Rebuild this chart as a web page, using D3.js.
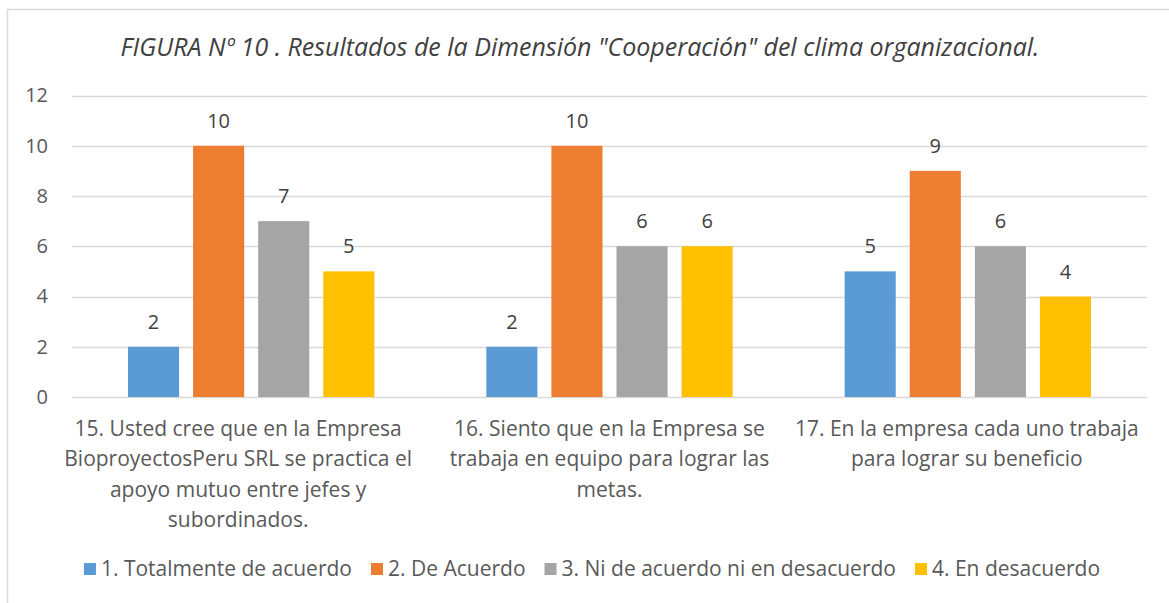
<!DOCTYPE html>
<html>
<head>
<meta charset="utf-8">
<script src="https://cdn.jsdelivr.net/npm/d3@7"></script>
<style>
  html, body { margin: 0; padding: 0; background: #fff; }
  svg text { font-family: "Open Sans", "Noto Sans", sans-serif; fill: #595959; }
</style>
</head>
<body>
<div id="chart"></div>
<script>
// --- data ---
const categories = ["q15", "q16", "q17"];
const categoryLines = [
  ["15. Usted cree que en la Empresa", "BioproyectosPeru SRL se practica el", "apoyo mutuo entre jefes y", "subordinados."],
  ["16. Siento que en la Empresa se", "trabaja en equipo para lograr las", "metas."],
  ["17. En la empresa cada uno trabaja", "para lograr su beneficio"]
];
const seriesNames = ["1. Totalmente de acuerdo", "2. De Acuerdo", "3. Ni de acuerdo ni en desacuerdo", "4. En desacuerdo"];
const totalmente = [2, 2, 5];
const deAcuerdo = [10, 10, 9];
const niNi = [7, 6, 6];
const desacuerdo = [5, 6, 4];
const yTicks = [0, 2, 4, 6, 8, 10, 12];
const titleText = "FIGURA Nº 10 . Resultados de la Dimensión \"Cooperación\" del clima organizacional.";

(function () {
  const W = 1169, H = 603;
  const colors = ["#5B9BD5", "#ED7D31", "#A5A5A5", "#FFC000"];
  const values = [totalmente, deAcuerdo, niNi, desacuerdo];
  const FS = 20;      // axis + data labels
  const FS_CAT = 21;  // category + legend text

  const svg = d3.select("#chart").append("svg")
    .attr("width", W).attr("height", H);

  // chart area border (cut at right/bottom in the source)
  svg.append("rect")
    .attr("x", 7.5).attr("y", 9.5)
    .attr("width", W + 20).attr("height", H + 20)
    .attr("fill", "#fff")
    .attr("stroke", "#D9D9D9").attr("stroke-width", 1.5);

  svg.append("text")
    .attr("x", 580).attr("y", 56)
    .attr("text-anchor", "middle")
    .style("font-style", "italic")
    .style("font-size", "25px")
    .style("fill", "#404040")
    .text(titleText);

  const x0 = d3.scaleBand().domain(categories).range([72, 1147]).padding(0);
  const x1 = d3.scaleBand().domain(d3.range(seriesNames.length))
    .range([0, x0.bandwidth()])
    .paddingInner(0.215).paddingOuter(0.86);
  const y = d3.scaleLinear().domain([0, 12]).range([397, 95.5]);

  // gridlines
  svg.append("g").selectAll("line")
    .data(yTicks).enter().append("line")
    .attr("x1", 72).attr("x2", 1147)
    .attr("y1", d => Math.round(y(d)) + 0.5).attr("y2", d => Math.round(y(d)) + 0.5)
    .attr("stroke", "#D9D9D9").attr("stroke-width", 1.5);

  // y axis labels
  const yAxis = d3.axisLeft(y).tickValues(yTicks).tickSize(0).tickPadding(0);
  const ga = svg.append("g").attr("transform", "translate(48,0)").call(yAxis);
  ga.select(".domain").remove();
  ga.selectAll("text")
    .style("font-size", FS + "px")
    .style("font-family", null)
    .attr("fill", null);

  // bars
  const groups = svg.append("g").selectAll("g")
    .data(categories).enter().append("g")
    .attr("transform", d => `translate(${x0(d)},0)`);

  groups.each(function (c, ci) {
    const g = d3.select(this);
    values.forEach((arr, si) => {
      const v = arr[ci];
      g.append("rect")
        .attr("x", x1(si)).attr("width", x1.bandwidth())
        .attr("y", y(v)).attr("height", y(0) - y(v))
        .attr("fill", colors[si]);
      g.append("text")
        .attr("x", x1(si) + x1.bandwidth() / 2)
        .attr("y", y(v) - 18)
        .attr("text-anchor", "middle")
        .style("font-size", FS + "px")
        .style("fill", "#404040")
        .text(v);
    });
  });

  // category labels (first one sits a bit left in the source)
  const labelShift = [-13, 0, -1];
  categories.forEach((c, ci) => {
    const cx = x0(c) + x0.bandwidth() / 2 + labelShift[ci];
    svg.append("text")
      .attr("text-anchor", "middle")
      .style("font-size", FS_CAT + "px")
      .selectAll("tspan")
      .data(categoryLines[ci]).enter().append("tspan")
      .attr("x", cx)
      .attr("y", (d, i) => 436 + i * 30.4)
      .text(d => d);
  });

  // legend, centred
  const leg = svg.append("g");
  const gap = 19;
  let cursor = 0;
  seriesNames.forEach((name, si) => {
    const item = leg.append("g").attr("transform", `translate(${cursor},0)`);
    item.append("rect").attr("x", 0).attr("y", -6).attr("width", 12).attr("height", 12)
      .attr("fill", colors[si]);
    const t = item.append("text").attr("x", 17).attr("y", 7)
      .style("font-size", FS_CAT + "px").text(name);
    cursor += 17 + t.node().getComputedTextLength() + gap;
  });
  const legW = cursor - gap;
  leg.attr("transform", `translate(${592 - legW / 2},569)`);
})();
</script>
</body>
</html>
